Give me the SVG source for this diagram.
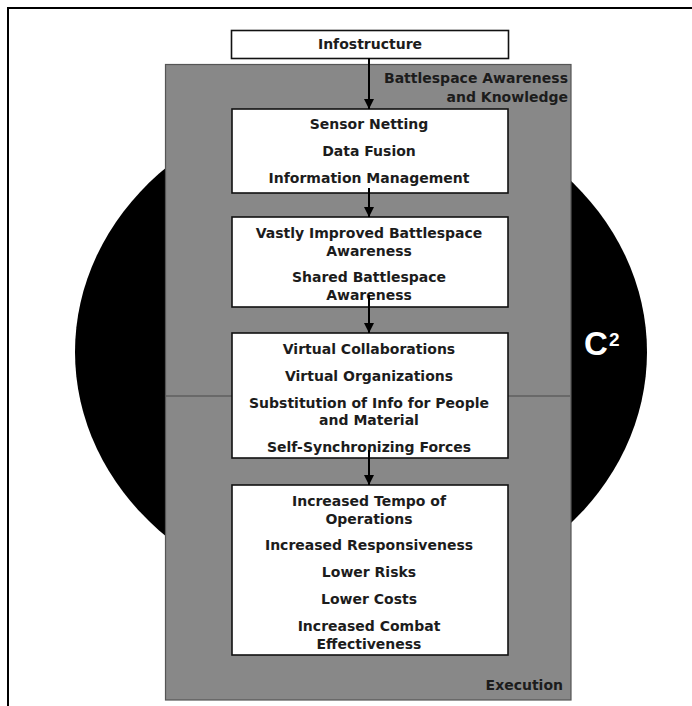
<svg xmlns="http://www.w3.org/2000/svg" width="692" height="706" viewBox="0 0 692 706">
  <style>
    .box { fill: #ffffff; stroke: #111111; stroke-width: 1.6; }
    .t { font-family: "DejaVu Sans", Verdana, sans-serif; font-weight: bold; font-size: 14px; fill: #1c1c1c; text-anchor: middle; }
    .tr { font-family: "DejaVu Sans", Verdana, sans-serif; font-weight: bold; font-size: 14px; fill: #1c1c1c; text-anchor: end; }
    .conn { stroke: #000000; stroke-width: 2; fill: none; }
  </style>
  <defs>
    <marker id="ah" markerWidth="10" markerHeight="10" refX="10" refY="5" orient="auto" markerUnits="userSpaceOnUse">
      <path d="M0,0 L10,5 L0,10 Z" fill="#000000"/>
    </marker>
  </defs>
  <rect x="0" y="0" width="692" height="706" fill="#ffffff"/>
  <g id="frame">
    <rect x="8" y="8" width="720" height="720" fill="none" stroke="#000000" stroke-width="2"/>
  </g>
  <g id="c2">
    <ellipse cx="361" cy="352" rx="286" ry="252" fill="#000000"/>
    <text x="584" y="355" font-family="Liberation Sans, Arial, sans-serif" font-weight="bold" font-size="33" fill="#ffffff">C</text>
    <text x="609" y="346" font-family="Liberation Sans, Arial, sans-serif" font-weight="bold" font-size="19" fill="#ffffff">2</text>
  </g>
  <g id="panel">
    <rect x="165.5" y="64.5" width="405.5" height="635.5" fill="#888888" stroke="#555555" stroke-width="1.2"/>
    <line x1="166" y1="396" x2="570" y2="396" stroke="#4a4a4a" stroke-width="1.2"/>
    <text class="tr" x="568" y="83">Battlespace Awareness</text>
    <text class="tr" x="568" y="102">and Knowledge</text>
    <text class="tr" x="563" y="690">Execution</text>
  </g>
  <g id="n0">
    <rect class="box" x="231.5" y="30.5" width="277" height="28"/>
    <text class="t" x="370" y="49">Infostructure</text>
  </g>
  <g id="n1">
    <rect class="box" x="232" y="109" width="276" height="84"/>
    <text class="t" x="369" y="129">Sensor Netting</text>
    <text class="t" x="369" y="156">Data Fusion</text>
    <text class="t" x="369" y="183">Information Management</text>
  </g>
  <g id="n2">
    <rect class="box" x="232" y="217" width="276" height="90"/>
    <text class="t" x="369" y="238">Vastly Improved Battlespace</text>
    <text class="t" x="369" y="256">Awareness</text>
    <text class="t" x="369" y="282">Shared Battlespace</text>
    <text class="t" x="369" y="300">Awareness</text>
  </g>
  <g id="n3">
    <rect class="box" x="232" y="333" width="276" height="125"/>
    <text class="t" x="369" y="354">Virtual Collaborations</text>
    <text class="t" x="369" y="381">Virtual Organizations</text>
    <text class="t" x="369" y="408">Substitution of Info for People</text>
    <text class="t" x="369" y="425">and Material</text>
    <text class="t" x="369" y="452">Self-Synchronizing Forces</text>
  </g>
  <g id="n4">
    <rect class="box" x="232" y="485" width="276" height="170"/>
    <text class="t" x="369" y="506">Increased Tempo of</text>
    <text class="t" x="369" y="524">Operations</text>
    <text class="t" x="369" y="550">Increased Responsiveness</text>
    <text class="t" x="369" y="577">Lower Risks</text>
    <text class="t" x="369" y="604">Lower Costs</text>
    <text class="t" x="369" y="631">Increased Combat</text>
    <text class="t" x="369" y="649">Effectiveness</text>
  </g>
  <g id="connectors">
    <line class="conn" x1="369" y1="58" x2="369" y2="109" marker-end="url(#ah)"/>
    <line class="conn" x1="369" y1="188" x2="369" y2="217" marker-end="url(#ah)"/>
    <line class="conn" x1="369" y1="295" x2="369" y2="333" marker-end="url(#ah)"/>
    <line class="conn" x1="369" y1="450" x2="369" y2="485" marker-end="url(#ah)"/>
  </g>
</svg>
